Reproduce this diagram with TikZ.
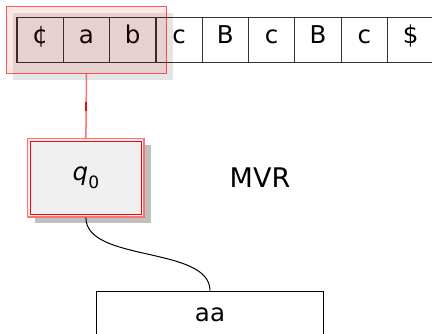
\documentclass[tikz,border=0pt]{standalone}
\usepackage{fontspec}
\setsansfont{DejaVu Sans}
\usepackage{tikz}
\usetikzlibrary{fit,calc,shadows}

\newcommand{\statelabel}[2]{{\itshape #1}\raisebox{-0.3em}{\fontsize{17}{20}\selectfont #2}}

\begin{document}
\begin{tikzpicture}[x=1pt,y=-1pt,line width=1.2pt,
  font=\sffamily\fontsize{24.5}{29}\selectfont,
  cell/.style={draw=black!80,minimum width=46.3pt,minimum height=45.4pt,inner sep=0pt,
    text height=0.72em,text depth=0pt},
  headbox/.style={draw=red,draw opacity=0.65,line width=1.3pt,fill=red,fill opacity=0.09,inner sep=10pt,
    drop shadow={shadow xshift=6.5pt,shadow yshift=-6.5pt,fill=black,opacity=0.1}},
  statebox/.style={draw=red!55,line width=1.2pt,fill=black!6,minimum width=116.3pt,minimum height=78.3pt,
    drop shadow={shadow xshift=7pt,shadow yshift=-6pt,fill=black,opacity=0.25}},
  stackbox/.style={draw,line width=1pt,minimum width=226.6pt,minimum height=48pt,anchor=north},
  tick/.style={fill=red,inner sep=0pt,minimum width=2.5pt,minimum height=9pt}]
  \useasboundingbox (0,0) rectangle (432,334);
  % tape
  \foreach \s [count=\i] in {¢,a,b,c,B,c,B,c,\$}
    \node[cell] (c\i) at ({17+46.3*(\i-0.5)},40) {\s};
  \node[headbox,fit=(c1)(c3)] (head) {};
  % control
  \node[statebox] (q0) at (85.9,177.9) {\statelabel{q}{0}};
  \draw[red,line width=1.2pt] ($(q0.north west)+(3,3)$) rectangle ($(q0.south east)+(-3,-3)$);
  \draw[red,draw opacity=0.55,line width=1.5pt] (head.south) -- node[tick] (tip) {} (q0.north);
  \node[font=\sffamily\fontsize{27}{32}\selectfont] (mvr) at (260,178) {MVR};
  % stack
  \node[stackbox] (stack) at (210,290.7) {aa};
  \draw[line width=1pt] (q0.south) .. controls +(0,45) and +(0,-45) .. (stack.north);
\end{tikzpicture}
\end{document}
